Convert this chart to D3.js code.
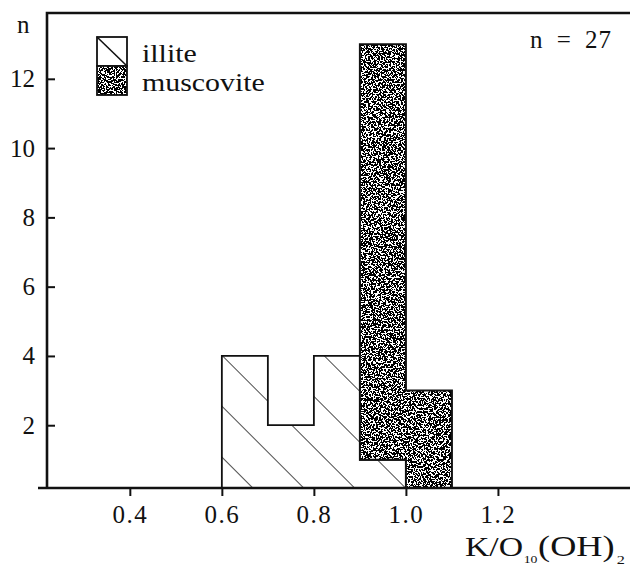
<!DOCTYPE html>
<html>
<head>
<meta charset="utf-8">
<script src="https://cdn.jsdelivr.net/npm/d3@7"></script>
<style>
  html, body { margin: 0; padding: 0; background: #fff; }
  svg { display: block; font-family: "Liberation Serif", "Times New Roman", serif; }
</style>
</head>
<body>
<div id="chart"></div>
<script>
// histogram bins (left edges), width 0.1
const binStart = [0.6, 0.7, 0.8, 0.9, 1.0];
const binWidth = 0.1;
const illite = [4, 2, 4, 1, 0];
const muscovite = [0, 0, 0, 12, 3];
const seriesNames = ["illite", "muscovite"];
const xTicks = [0.4, 0.6, 0.8, 1.0, 1.2];
const yTicks = [2, 4, 6, 8, 10, 12];
const totalLabel = "n = 27";

const width = 630, height = 572;
const plotLeft = 47, plotRight = 630, plotTop = 13, plotBottom = 488;

const x = d3.scaleLinear().domain([0.22, 1.487]).range([plotLeft, plotRight]);
const y = d3.scaleLinear().domain([0, 13.9]).range([494.5, plotTop]);

const svg = d3.select("#chart").append("svg")
  .attr("width", width).attr("height", height);

const defs = svg.append("defs");

defs.append("clipPath").attr("id", "plot-clip")
  .append("rect")
  .attr("x", plotLeft).attr("y", plotTop)
  .attr("width", plotRight - plotLeft).attr("height", plotBottom - plotTop);

// diagonal hatch for illite
const hatch = defs.append("pattern")
  .attr("id", "hatch")
  .attr("patternUnits", "userSpaceOnUse")
  .attr("width", 36).attr("height", 36)
  .attr("patternTransform", `translate(${x(0.6)},${y(4)}) rotate(-45)`);
hatch.append("rect").attr("width", 36).attr("height", 36).attr("fill", "#fff");
hatch.append("line")
  .attr("x1", 0).attr("y1", -1).attr("x2", 0).attr("y2", 37)
  .attr("stroke", "#111").attr("stroke-width", 1.5);

// stipple texture for muscovite
const stip = defs.append("filter")
  .attr("id", "stipple")
  .attr("x", 0).attr("y", 0).attr("width", 1).attr("height", 1)
  .attr("color-interpolation-filters", "sRGB");
stip.append("feTurbulence")
  .attr("type", "fractalNoise").attr("baseFrequency", 0.6)
  .attr("numOctaves", 3).attr("seed", 7).attr("result", "noise");
stip.append("feColorMatrix")
  .attr("in", "noise").attr("type", "matrix")
  .attr("values", "1 0 0 0 0  1 0 0 0 0  1 0 0 0 0  0 0 0 0 1")
  .attr("result", "gray");
const thr = d3.range(40).map((i) => (i < 21 ? 0 : 1)).join(" ");
const ct = stip.append("feComponentTransfer").attr("in", "gray").attr("result", "bw");
["feFuncR", "feFuncG", "feFuncB"].forEach((f) =>
  ct.append(f).attr("type", "discrete").attr("tableValues", thr)
);
stip.append("feComposite").attr("in", "bw").attr("in2", "SourceGraphic").attr("operator", "in");

const plot = svg.append("g").attr("clip-path", "url(#plot-clip)");

// illite outline (step polygon)
const illitePts = [[x(binStart[0]), y(0)]];
binStart.forEach((b, i) => {
  if (illite[i] > 0) {
    illitePts.push([x(b), y(illite[i])], [x(b + binWidth), y(illite[i])]);
  }
});
illitePts.push([illitePts[illitePts.length - 1][0], y(0)]);

plot.append("path")
  .attr("d", d3.line()(illitePts) + "Z")
  .attr("fill", "url(#hatch)")
  .attr("stroke", "#111")
  .attr("stroke-width", 1.8);

// muscovite stacked on illite
const mIdx = binStart.map((b, i) => i).filter((i) => muscovite[i] > 0);
const topPts = [], botPts = [];
mIdx.forEach((i) => {
  const b0 = illite[i], t = illite[i] + muscovite[i];
  topPts.push([x(binStart[i]), y(t)], [x(binStart[i] + binWidth), y(t)]);
  botPts.push([x(binStart[i]), y(b0)], [x(binStart[i] + binWidth), y(b0)]);
});
const muscPts = topPts.concat(botPts.reverse());
const muscPath = d3.line()(muscPts) + "Z";

plot.append("path")
  .attr("d", muscPath)
  .attr("fill", "#000")
  .attr("filter", "url(#stipple)");
plot.append("path")
  .attr("d", muscPath)
  .attr("fill", "none")
  .attr("stroke", "#111")
  .attr("stroke-width", 2);

// frame
const frame = svg.append("g").attr("stroke", "#111").attr("stroke-width", 2.6).attr("fill", "none");
frame.append("path").attr("d", `M${plotRight},${plotTop}H${plotLeft}V${plotBottom}`);
frame.append("line").attr("x1", 38).attr("x2", plotRight).attr("y1", plotBottom).attr("y2", plotBottom);

// axes
const yAxis = svg.append("g")
  .attr("transform", `translate(${plotLeft},0)`)
  .call(d3.axisLeft(y).tickValues(yTicks).tickSizeInner(-8).tickSizeOuter(0).tickPadding(12));
const xAxis = svg.append("g")
  .attr("transform", `translate(0,${plotBottom})`)
  .call(d3.axisBottom(x).tickValues(xTicks).tickFormat(d3.format(".1f")).tickSize(8).tickPadding(9));

[yAxis, xAxis].forEach((g) => {
  g.select(".domain").remove();
  g.selectAll(".tick line").attr("stroke", "#111").attr("stroke-width", 2);
  g.selectAll(".tick text")
    .attr("fill", "#111")
    .style("font-family", "'Liberation Serif', serif")
    .style("font-size", "25px");
});
xAxis.selectAll(".tick text").attr("letter-spacing", 1.5);

// axis titles
svg.append("text")
  .attr("x", 17).attr("y", 33)
  .attr("font-size", 25).attr("fill", "#111")
  .text("n");

// x title, drawn a bit wide like the original lettering
const xt = svg.append("text")
  .attr("transform", "translate(465,556) scale(1.25,1)")
  .attr("font-size", 27).attr("fill", "#111");
xt.append("tspan").attr("x", 0).text("K/O");
xt.append("tspan").attr("x", 47).attr("dy", 7).attr("font-size", 11).text("10");
xt.append("tspan").attr("x", 58.5).attr("dy", -7).attr("font-size", 29).text("(OH)");
xt.append("tspan").attr("x", 121.5).attr("dy", 8).attr("font-size", 13).text("2");

svg.append("text")
  .attr("x", 530).attr("y", 48)
  .attr("font-size", 25).attr("fill", "#111")
  .attr("letter-spacing", 1)
  .attr("word-spacing", 6)
  .text(totalLabel);

// legend
const lg = svg.append("g");
const boxX = 97, boxW = 30, boxY = [37, 66], boxH = 29;
seriesNames.forEach((name, i) => {
  const by = boxY[i];
  if (i === 0) {
    lg.append("rect")
      .attr("x", boxX).attr("y", by).attr("width", boxW).attr("height", boxH)
      .attr("fill", "#fff").attr("stroke", "#111").attr("stroke-width", 1.8);
    lg.append("line")
      .attr("x1", boxX).attr("y1", by).attr("x2", boxX + boxW).attr("y2", by + boxH)
      .attr("stroke", "#111").attr("stroke-width", 1.6);
  } else {
    lg.append("rect")
      .attr("x", boxX).attr("y", by).attr("width", boxW).attr("height", boxH)
      .attr("fill", "#000").attr("filter", "url(#stipple)");
    lg.append("rect")
      .attr("x", boxX).attr("y", by).attr("width", boxW).attr("height", boxH)
      .attr("fill", "none").attr("stroke", "#111").attr("stroke-width", 1.8);
  }
  lg.append("text")
    .attr("transform", `translate(142,${by + 25}) scale(1.15,1)`)
    .attr("font-size", 26).attr("fill", "#111")
    .text(name);
});
</script>
</body>
</html>
